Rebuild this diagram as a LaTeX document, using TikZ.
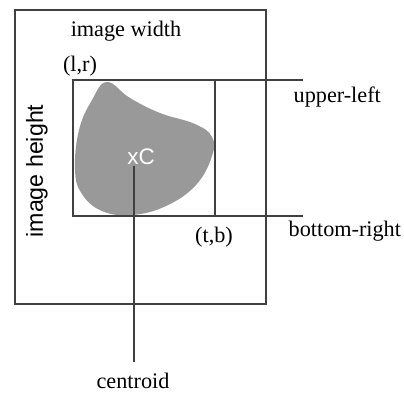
\documentclass[tikz,border=0pt]{standalone}
\usepackage{fontspec}
\setmainfont{Liberation Serif}
\setsansfont{Liberation Sans}
\usepackage{xcolor}
\definecolor{frame}{HTML}{404040}
\definecolor{blob}{HTML}{999999}
\usetikzlibrary{positioning}

\begin{document}
\begin{tikzpicture}[x=0.025cm, y=-0.025cm, line width=1pt,
		lbl/.style={inner sep=0pt, font=\fontsize{15.8}{18}\selectfont},
		lead/.style={draw=frame}]

	% page, same size as the reference
	\useasboundingbox (0,0) rectangle (404,394);

	% ---------- corners of the image and of the bounding box
	\coordinate (imgNW) at (15,10);
	\coordinate (imgSE) at (266,304);
	\coordinate (boxNW) at (73,80);
	\coordinate (boxNE) at (215,80);
	\coordinate (boxSE) at (215,216);
	\coordinate (ulEnd) at (303,80);
	\coordinate (brEnd) at (303,216);
	\coordinate (cTop) at (134,166);
	\coordinate (cEnd) at (134,362);

	% object, filled blob
	\fill[blob] plot[smooth cycle, tension=0.7] coordinates {
		(107,82) (130,98) (160,113) (195,124) (212,137) (212,156)
		(196,185) (166,206) (132,215) (102,211) (82,194) (75,170)
		(79,130) (92,100)};

	% image frame and bounding box
	\draw[frame] (imgNW) rectangle (imgSE);
	\draw[frame] (boxNW) rectangle (boxSE);

	% leaders to the corner names
	\draw[lead] (boxNE) -- (ulEnd);
	\draw[lead] (boxSE) -- (brEnd);

	% labels
	\node[lbl] (width) at (126,31) {image width};
	\node[lbl] (lr) at (80,66) {(l,r)};
	\node[lbl] (tb) at (214,237) {(t,b)};
	\node[lbl, anchor=west] (ul) at (293,97) {upper-left};
	\node[lbl, anchor=west] (br) at (288,231) {bottom-right};
	\node[lbl, font=\sffamily\fontsize{16.5}{18}\selectfont, rotate=90] (height) at (37,171) {image height};
	\node[lbl, font=\sffamily\fontsize{16}{18}\selectfont, white] (xC) at (141,157) {xC};
	\node[lbl] (centroid) at (133,381) {centroid};

	% centroid leader
	\draw[lead] (cTop) -- (cEnd);
\end{tikzpicture}
\end{document}
